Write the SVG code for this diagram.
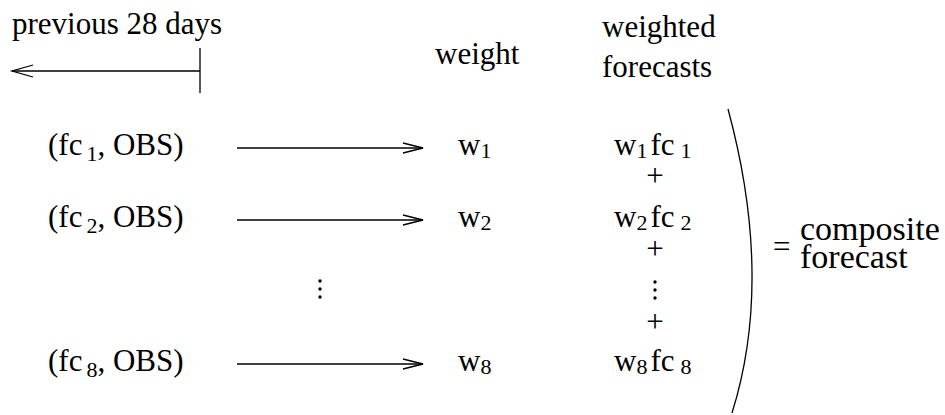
<svg xmlns="http://www.w3.org/2000/svg" width="945" height="415" viewBox="0 0 945 415">
<defs>
<style>
text{font-family:"Liberation Serif","Times New Roman",serif;font-size:31px;fill:#000}
.sub{font-size:22px}
.big{font-size:34px}
.ln{stroke:#000;stroke-width:1.3;fill:none}
</style>
<marker id="ah" viewBox="0 0 22 12" refX="21" refY="6" markerWidth="22" markerHeight="12" markerUnits="userSpaceOnUse" orient="auto">
<path d="M1 1 L21 6 L1 11" stroke="#000" stroke-width="1.3" fill="none"/>
</marker>
</defs>
<rect width="945" height="415" fill="#fff"/>
<g id="header-prev">
<text x="12" y="34">previous 28 days</text>
</g>
<g id="header-weight"><text x="435" y="64">weight</text></g>
<g id="header-weighted"><text x="602" y="37">weighted</text><text x="602" y="77">forecasts</text></g>
<g id="pair1"><text x="48" y="155">(fc<tspan class="sub" dx="4" dy="6">1</tspan><tspan dy="-6">, OBS)</tspan></text></g>
<g id="pair2"><text x="48" y="227">(fc<tspan class="sub" dx="4" dy="6">2</tspan><tspan dy="-6">, OBS)</tspan></text></g>
<g id="pair8"><text x="48" y="371">(fc<tspan class="sub" dx="4" dy="6">8</tspan><tspan dy="-6">, OBS)</tspan></text></g>
<g id="vdots-left"><circle cx="320" cy="281" r="1.7"/><circle cx="320" cy="289" r="1.7"/><circle cx="320" cy="297" r="1.7"/></g>
<g id="w1"><text x="458" y="155">w<tspan class="sub" dy="3">1</tspan></text></g>
<g id="w2"><text x="458" y="227">w<tspan class="sub" dy="3">2</tspan></text></g>
<g id="w8"><text x="458" y="371">w<tspan class="sub" dy="3">8</tspan></text></g>
<g id="wf1"><text x="614" y="155">w<tspan class="sub" dy="3">1</tspan><tspan dx="3" dy="-3">fc</tspan><tspan class="sub" dx="6" dy="3">1</tspan></text></g>
<g id="plus1"><text x="655" y="186" text-anchor="middle">+</text></g>
<g id="wf2"><text x="614" y="227">w<tspan class="sub" dy="3">2</tspan><tspan dx="3" dy="-3">fc</tspan><tspan class="sub" dx="6" dy="3">2</tspan></text></g>
<g id="plus2"><text x="655" y="259" text-anchor="middle">+</text></g>
<g id="vdots-right"><circle cx="655" cy="282" r="1.7"/><circle cx="655" cy="290" r="1.7"/><circle cx="655" cy="298" r="1.7"/></g>
<g id="plus3"><text x="655" y="332" text-anchor="middle">+</text></g>
<g id="wf8"><text x="614" y="371">w<tspan class="sub" dy="3">8</tspan><tspan dx="3" dy="-3">fc</tspan><tspan class="sub" dx="6" dy="3">8</tspan></text></g>
<g id="paren"><path class="ln" d="M728 109 Q774 279 732 413"/></g>
<g id="result"><text x="773" y="257">=</text><text class="big" x="800" y="240">composite</text><text class="big" x="800" y="268">forecast</text></g>
<g id="connectors">
<path class="ln" d="M200 71 H12"/>
<path class="ln" d="M33 65 L12 71 L33 77"/>
<path class="ln" d="M200 48 V93"/>
<path class="ln" d="M237 148 H423" marker-end="url(#ah)"/>
<path class="ln" d="M237 220 H423" marker-end="url(#ah)"/>
<path class="ln" d="M237 364 H423" marker-end="url(#ah)"/>
</g>
</svg>
